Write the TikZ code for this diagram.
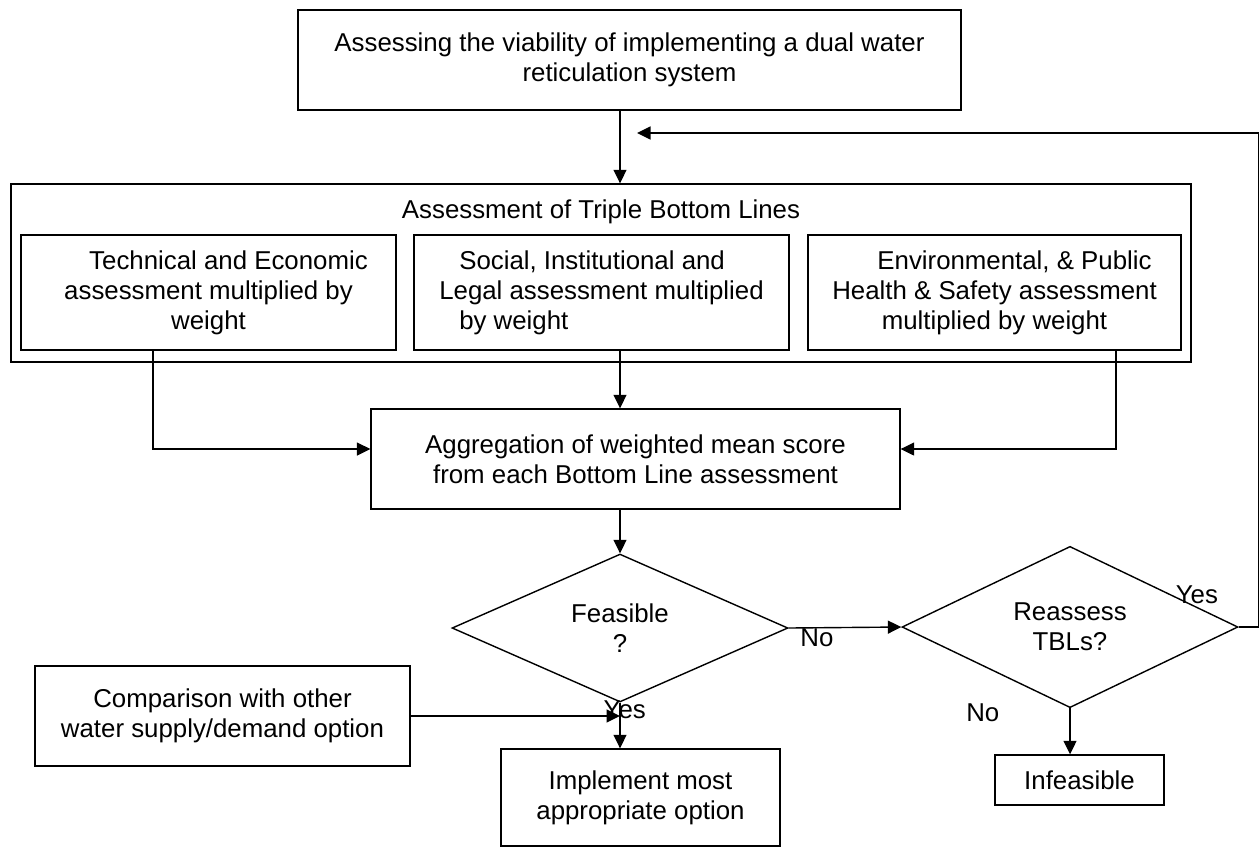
\documentclass[tikz,border=0pt]{standalone}
\usepackage{fontspec}
\setmainfont{Liberation Sans}
\usetikzlibrary{shapes.geometric,arrows.meta}

\begin{document}
\begin{tikzpicture}[x=0.02cm,y=-0.02cm,
  every node/.style={font=\fontsize{14.7}{17}\selectfont},
  box/.style={draw,line width=0.8pt,inner sep=0pt,align=center},
  decision/.style={draw,diamond,line width=0.8pt,inner sep=0pt,align=center,
    minimum width=6.72cm,minimum height=2.96cm},
  lbl/.style={inner sep=0pt},
  wire/.style={line width=0.8pt},
  >={Triangle[length=0.27cm,width=0.26cm]}]
\useasboundingbox (0,0) rectangle (1260,846);

%boxes
\node[box,minimum width=13.26cm,minimum height=2cm] (viab) at (629.5,60) {Assessing the viability of implementing a dual water\\reticulation system};
\node[box,minimum width=23.6cm,minimum height=3.56cm] (tbl) at (601,273) {};
\node[lbl] (tbltitle) at (601,212) {Assessment of Triple Bottom Lines};
\node[box,minimum width=7.5cm,minimum height=2.3cm] (tech) at (208.5,292.5) {\hspace*{0.8cm}Technical and Economic\\assessment multiplied by\\weight};
\node[box,align=left,minimum width=7.5cm,minimum height=2.3cm] (social) at (601.5,292.5) {\hspace*{0.4cm}Social, Institutional and\\Legal assessment multiplied\\\hspace*{0.4cm}by weight};
\node[box,minimum width=7.46cm,minimum height=2.3cm] (env) at (994.5,292.5) {\hspace*{0.8cm}Environmental, \& Public\\Health \& Safety assessment\\multiplied by weight};
\node[box,minimum width=10.58cm,minimum height=2cm] (agg) at (635.5,459) {Aggregation of weighted mean score\\from each Bottom Line assessment};

%decisions
\node[decision] (feas) at (620,628) {Feasible\\?};
\node[decision] (reas) at (1070,627) {Reassess\\TBLs?};

\node[box,minimum width=7.5cm,minimum height=2cm] (comp) at (222.5,716) {Comparison with other\\water supply/demand option};
\node[box,minimum width=5.58cm,minimum height=1.94cm] (impl) at (640.5,797.5) {Implement most\\appropriate option};
\node[box,minimum width=3.38cm,minimum height=1cm] (infeas) at (1079.5,780) {Infeasible};
\coordinate (ret) at (637,133);

%arrows
\draw[wire,->] (viab.south -| feas.north) -- (tbl.north -| feas.north);
\draw[wire,->] (social.south -| feas.north) -- (agg.north -| feas.north);
\draw[wire,->] ([xshift=-1.11cm]tech.south) |- ([yshift=0.2cm]agg.west);
\draw[wire,->] ([xshift=2.43cm]env.south) |- ([yshift=0.2cm]agg.east);
\draw[wire,->] (agg.south -| feas.north) -- (feas.north);
\draw[wire,->] (feas.east) -- node[lbl,pos=0,anchor=north west,xshift=0.22cm]{No} (reas.west);
\draw[wire,->] (reas.east) node[lbl,anchor=base east,xshift=-0.4cm,yshift=0.48cm]{Yes} -- ++(20,0) |- (ret);
\draw[wire,->] (reas.south) node[lbl,anchor=base east,xshift=-1.4cm,yshift=-0.26cm]{No} -- (reas.south |- infeas.north);
\draw[wire,->] (feas.south) node[lbl,anchor=base west,xshift=-0.34cm,yshift=-0.32cm]{Yes} -- (feas.south |- impl.north);
\draw[wire,->] (comp.east) -- (comp.east -| feas.south);
\end{tikzpicture}
\end{document}
